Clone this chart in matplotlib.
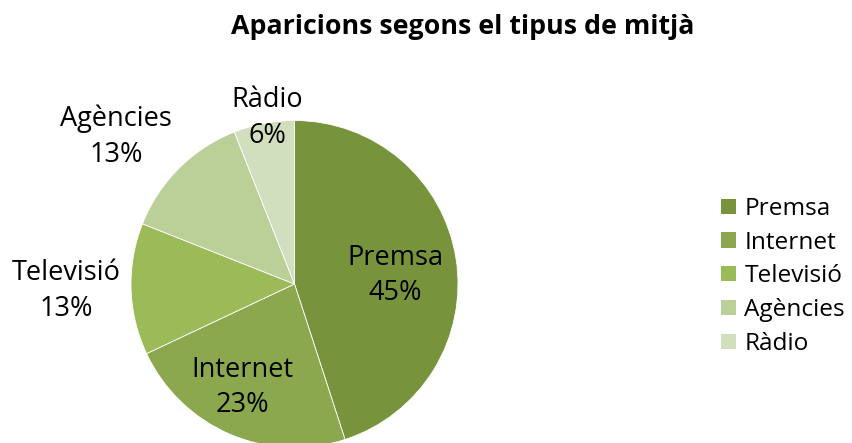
import matplotlib
matplotlib.use("Agg")
import matplotlib.pyplot as plt
from matplotlib.patches import Patch
import numpy as np

categories = ["Premsa", "Internet", "Televisió", "Agències", "Ràdio"]
values = [45, 23, 13, 13, 6]
colors = ["#77933C", "#8BA84E", "#9BBB59", "#BBCF99", "#D2DFBF"]
title = "Aparicions segons el tipus de mitjà"

# label positions (data units, pie radius = 1)
label_pos = [(0.615, 0.052), (-0.318, -0.633), (-1.395, -0.043), (-1.092, 0.902), (-0.165, 1.018)]

W, H = 853, 443
fig = plt.figure(figsize=(W / 100, H / 100), dpi=100)
cx, cy, r = 294.5, 443 - 284, 163.5
ax = fig.add_axes([(cx - r) / W, (cy - r) / H, 2 * r / W, 2 * r / H])
wedges, _ = ax.pie(values, colors=colors, startangle=90, counterclock=False,
                   radius=1, wedgeprops=dict(edgecolor="white", linewidth=0.6))
ax.set_xlim(-1, 1)
ax.set_ylim(-1, 1)
ax.set_aspect("equal")
ax.axis("off")
for w in wedges:
    w.set_clip_on(False)

lab_font = dict(family="Open Sans", fontsize=19.5, color="black")
for cat, v, (x, y) in zip(categories, values, label_pos):
    ax.text(x, y, f"{cat}\n{v}%", ha="center", va="center", linespacing=1.38,
            clip_on=False, **lab_font)

fig.text(463 / W, 1 - 34 / H, title, ha="center", va="baseline",
         family="Open Sans", fontweight="bold", fontsize=19.3)

handles = [Patch(facecolor=c, edgecolor="none") for c in colors]
leg = fig.legend(handles, categories, loc="center left",
                 bbox_to_anchor=(721 / W, 1 - 276.5 / H), frameon=False,
                 prop=dict(family="Open Sans", size=17.6),
                 handlelength=0.63, handleheight=0.58, handletextpad=0.33,
                 labelspacing=0.40, borderpad=0, borderaxespad=0)

fig.savefig("out.png", dpi=100)
